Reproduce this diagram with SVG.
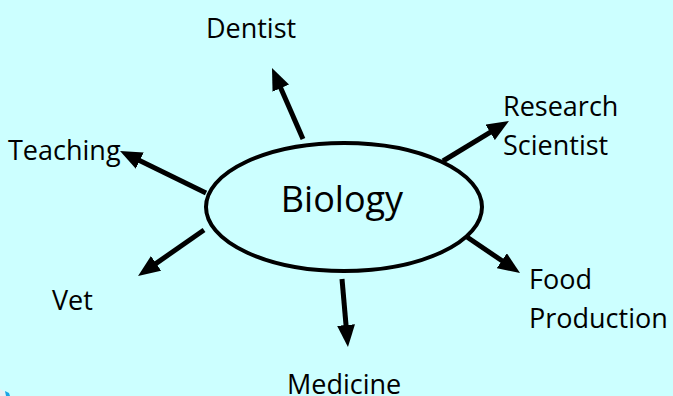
<svg xmlns="http://www.w3.org/2000/svg" width="673" height="396" viewBox="0 0 673 396">
<defs>
<style>
.lbl{font-family:"Open Sans","Liberation Sans",sans-serif;font-size:27px;fill:#000}
.big{font-family:"Open Sans","Liberation Sans",sans-serif;font-size:36px;fill:#000}
.con line{stroke:#000;stroke-width:5;marker-end:url(#ah)}
</style>
<marker id="ah" markerUnits="userSpaceOnUse" markerWidth="22" markerHeight="18" refX="10" refY="9" orient="auto">
<path d="M0,0 L22,9 L0,18 Z" fill="#000"/>
</marker>
</defs>
<rect width="673" height="396" fill="#ccffff"/>
<path d="M0,389 L5,392 L9,396 L0,396 Z" fill="#e8f0f4"/>
<path d="M5,391 L9,393 L10,396 L6,396 Z" fill="#1aa6e6"/>
<g class="con" id="connectors">
<line x1="303" y1="139" x2="276.8" y2="79"/>
<line x1="443" y1="161" x2="498.7" y2="127.2"/>
<line x1="206" y1="193" x2="130.8" y2="156.3"/>
<line x1="204" y1="230" x2="147.9" y2="269.1"/>
<line x1="342" y1="279" x2="346.9" y2="335"/>
<line x1="467" y1="237" x2="510.1" y2="266.3"/>
</g>
<g id="biology">
<ellipse cx="344" cy="207" rx="138" ry="64" fill="none" stroke="#000" stroke-width="4"/>
<text class="big" x="342" y="212" text-anchor="middle">Biology</text>
</g>
<g id="dentist"><text class="lbl" x="251" y="38" text-anchor="middle">Dentist</text></g>
<g id="research"><text class="lbl" x="503" y="116">Research</text><text class="lbl" x="503" y="155">Scientist</text></g>
<g id="teaching"><text class="lbl" x="8" y="160">Teaching</text></g>
<g id="vet"><text class="lbl" x="52" y="310">Vet</text></g>
<g id="medicine"><text class="lbl" x="287" y="394">Medicine</text></g>
<g id="food"><text class="lbl" x="529" y="289">Food</text><text class="lbl" x="529" y="328">Production</text></g>
</svg>
